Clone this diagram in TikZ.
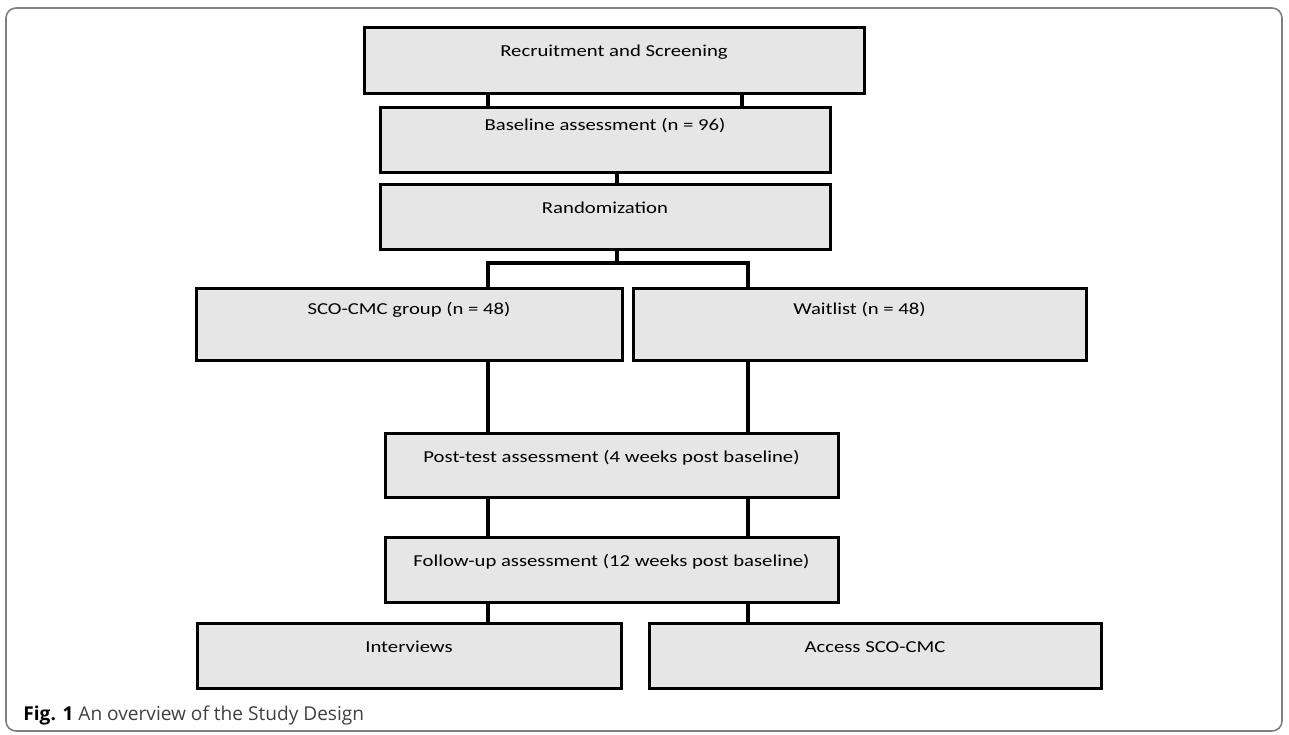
\documentclass[tikz,border=0pt]{standalone}
\usepackage{fontspec}
\setmainfont{Carlito}
\newfontfamily\boxfont[FakeStretch=1.24]{Carlito}
\newfontfamily\capfont{Open Sans}
\usetikzlibrary{calc,positioning}
\definecolor{boxgray}{HTML}{E6E6E6}
\definecolor{framegray}{HTML}{808080}
\definecolor{capgray}{HTML}{404040}

\begin{document}
\begin{tikzpicture}[
  x=0.5pt, y=-0.5pt,
  stage/.style={draw,fill=boxgray,line width=1.5pt,anchor=north,inner sep=0pt,
    font=\boxfont\fontsize{8.35pt}{10pt}\selectfont,text height=14.5pt,text depth=18pt},
  link/.style={draw,line width=2pt},
]
  \useasboundingbox (0,0) rectangle (1289,734);
  \draw[framegray,line width=0.8pt,rounded corners=5pt] (6,8) rectangle (1282,731);

  % Column lines
  \coordinate (topL) at (488,0);
  \coordinate (topR) at (742,0);
  \coordinate (mid) at (617,0);
  \coordinate (colL) at (488,0);
  \coordinate (colR) at (748,0);
  \coordinate (split) at (617,263);

  % Enrolment
  \node[stage,minimum width=250pt,text depth=18.5pt] (recruit) at (614,26) {Recruitment and Screening};
  \node[stage,minimum width=225pt,text height=11.5pt,text depth=21pt] (baseline) at (605,106) {Baseline assessment (n = 96)};
  \node[stage,minimum width=225pt] (random) at (605,183) {Randomization};

  % Arms
  \node[stage,minimum width=213pt,text height=13pt,text depth=23pt] (sco) at (409,287) {SCO-CMC group (n = 48)};
  \node[stage,minimum width=226.5pt,text height=13pt,text depth=23pt] (wait) at (859.5,287) {Waitlist (n = 48)};

  % Assessments
  \node[stage,minimum width=226.5pt,text depth=17.5pt] (post) at (611.5,432) {Post-test assessment (4 weeks post baseline)};
  \node[stage,minimum width=226.5pt] (follow) at (611.5,536) {Follow-up assessment (12 weeks post baseline)};

  % After follow-up
  \node[stage,minimum width=212pt] (interv) at (409,622) {Interviews};
  \node[stage,minimum width=226pt] (access) at (875,622) {Access SCO-CMC};

  % Caption
  \node[anchor=base west,inner sep=0pt,font=\capfont\fontsize{9.55pt}{11pt}\selectfont,text=capgray]
    (cap) at (23,720) {\textbf{\color{black}Fig. 1} An overview of the Study Design};

  % Edges: enrolment
  \draw[link] (recruit.south -| topL) -- (baseline.north -| topL);
  \draw[link] (recruit.south -| topR) -- (baseline.north -| topR);
  \draw[link] (baseline.south -| mid) -- (random.north -| mid);

  % Edges: randomization
  \draw[link] (random.south -| mid) -- (split);
  \draw[link] (sco.north -| colL) |- (split) -| (wait.north -| colR);

  % Edges: assessments
  \draw[link] (sco.south -| colL) -- (post.north -| colL);
  \draw[link] (wait.south -| colR) -- (post.north -| colR);
  \foreach \c in {colL,colR} {
    \draw[link] (post.south -| \c) -- (follow.north -| \c);
    \draw[link] (follow.south -| \c) -- (interv.north -| \c);
  }
\end{tikzpicture}
\end{document}
